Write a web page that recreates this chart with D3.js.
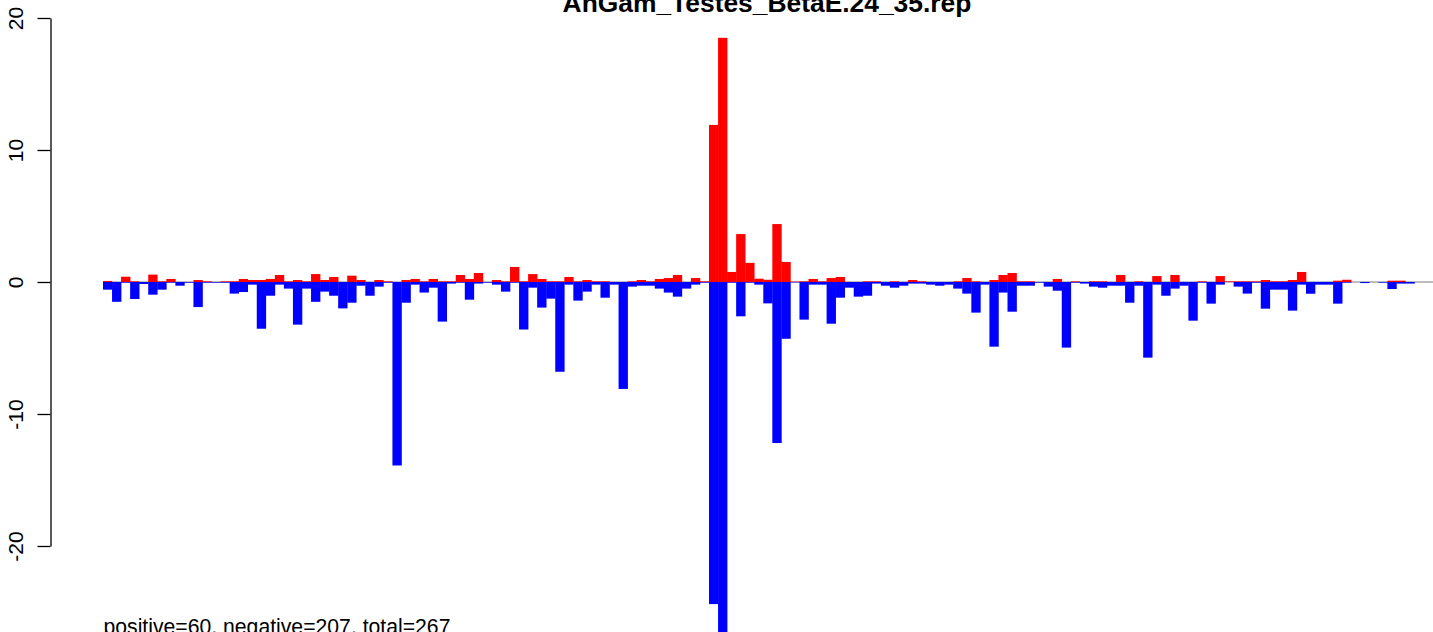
<!DOCTYPE html>
<html>
<head>
<meta charset="utf-8">
<script src="https://cdn.jsdelivr.net/npm/d3@7"></script>
<style>
  body { margin: 0; background: #fff; }
  svg { display: block; font-family: "Liberation Sans", Arial, Helvetica, sans-serif; }
</style>
</head>
<body>
<div id="chart"></div>
<script>
// values, one entry per position (145 positions)
var posValues = [
  0.08, 0, 0.4, 0.05, 0, 0.56, 0.05, 0.23, 0, 0,
  0.15, 0.05, 0, 0.05, 0.05, 0.23, 0.15, 0.15, 0.23, 0.53,
  0.05, 0.15, 0.05, 0.6, 0.15, 0.38, 0, 0.48, 0.15, 0,
  0.15, 0.05, 0, 0.15, 0.23, 0.05, 0.23, 0.05, 0.05, 0.53,
  0.23, 0.68, 0, 0.15, 0.05, 1.14, 0.05, 0.6, 0.23, 0.05,
  0.05, 0.38, 0.05, 0.15, 0.05, 0.05, 0, 0, 0.05, 0.15,
  0.05, 0.23, 0.3, 0.53, 0, 0.3, 0.05, 11.9, 18.5, 0.76,
  3.63, 1.45, 0.25, 0.17, 4.39, 1.52, 0.03, 0.05, 0.23, 0.05,
  0.3, 0.38, 0, 0, 0.05, 0.05, 0, 0.05, 0, 0.15,
  0.05, 0, 0, 0, 0.05, 0.3, 0.05, 0, 0.15, 0.53,
  0.68, 0.05, 0.05, 0, 0, 0.23, 0, 0.05, 0, 0.05,
  0.05, 0, 0.53, 0, 0.05, 0, 0.45, 0, 0.53, 0,
  0, 0.05, 0, 0.45, 0.05, 0.05, 0.05, 0.05, 0.15, 0.05,
  0.05, 0.15, 0.76, 0, 0, 0, 0.1, 0.17, 0, 0,
  0, 0, 0.1, 0.1, 0
];
var negValues = [
  -0.58, -1.5, -0.05, -1.29, -0.15, -0.96, -0.58, -0.05, -0.28, -0.05,
  -1.9, -0.05, -0.05, -0.05, -0.88, -0.76, -0.2, -3.54, -1.04, -0.2,
  -0.5, -3.23, -0.5, -1.5, -0.73, -1.04, -2.0, -1.57, -0.28, -1.04,
  -0.35, -0.05, -13.9, -1.57, -0.2, -0.8, -0.43, -3.0, -0.12, -0.05,
  -1.34, -0.12, -0.05, -0.2, -0.73, -0.05, -3.6, -0.43, -1.94, -1.26,
  -6.8, -0.2, -1.41, -0.73, -0.2, -1.19, -0.2, -8.1, -0.35, -0.28,
  -0.28, -0.5, -0.8, -1.11, -0.5, -0.2, -0.05, -24.4, -28, -0.05,
  -2.6, -0.05, -0.2, -1.62, -12.2, -4.3, -0.03, -2.85, -0.2, -0.2,
  -3.16, -1.19, -0.43, -1.11, -1.04, -0.12, -0.28, -0.43, -0.28, -0.12,
  -0.12, -0.2, -0.28, -0.2, -0.5, -0.88, -2.32, -0.2, -4.9, -0.8,
  -2.25, -0.28, -0.28, -0.05, -0.35, -0.66, -4.97, -0.05, -0.12, -0.35,
  -0.43, -0.28, -0.28, -1.57, -0.28, -5.73, -0.2, -1.04, -0.5, -0.28,
  -2.93, -0.05, -1.64, -0.2, 0, -0.35, -0.88, -0.05, -2.02, -0.58,
  -0.58, -2.17, -0.2, -0.89, -0.2, -0.2, -1.64, -0.05, 0, -0.08,
  0, -0.05, -0.53, -0.12, -0.12
];
var yTicks = [-20, -10, 0, 10, 20];
var title = "AnGam_Testes_BetaE.24_35.rep";
var summary = "positive=60, negative=207, total=267";

var width = 1433, height = 632;
var barW = 9.045;
var n = posValues.length;

var svg = d3.select("#chart").append("svg")
    .attr("width", width)
    .attr("height", height);

var xscale = d3.scaleBand()
    .domain(d3.range(n))
    .range([103, 103 + n * barW])
    .paddingInner(0).paddingOuter(0);
var yscale = d3.scaleLinear().domain([-20, 20]).range([546, 18]);

// zero line under the bars
svg.append("line")
    .attr("x1", 103).attr("x2", width)
    .attr("y1", yscale(0)).attr("y2", yscale(0))
    .attr("stroke", "#bebebe").attr("stroke-width", 2);

svg.append("g").selectAll("rect")
    .data(posValues)
    .join("rect")
    .attr("x", (d, i) => xscale(i))
    .attr("width", xscale.bandwidth() + 0.3)
    .attr("y", d => yscale(d))
    .attr("height", d => yscale(0) - yscale(d))
    .attr("fill", "#ff0000");

svg.append("g").selectAll("rect")
    .data(negValues)
    .join("rect")
    .attr("x", (d, i) => xscale(i))
    .attr("width", xscale.bandwidth() + 0.3)
    .attr("y", yscale(0))
    .attr("height", d => yscale(d) - yscale(0))
    .attr("fill", "#0000ff");

// y axis, labels turned like R's las=0
var yaxis = d3.axisLeft(yscale)
    .tickValues(yTicks)
    .tickFormat(d => String(d))
    .tickSize(13)
    .tickSizeOuter(0);
var g_yaxis = svg.append("g")
    .attr("transform", "translate(50.5,0)")
    .call(yaxis);
g_yaxis.select(".domain").attr("stroke", "#000").attr("stroke-width", 1.3);
g_yaxis.selectAll(".tick line").attr("stroke", "#000").attr("stroke-width", 1.3);
g_yaxis.selectAll(".tick text")
    .attr("transform", "rotate(-90)")
    .attr("x", 0).attr("y", -27.5).attr("dy", 0)
    .attr("text-anchor", "middle")
    .attr("fill", "#000")
    .style("font-size", "21px")
    .style("font-family", "'Liberation Sans', Arial, sans-serif");

svg.append("text")
    .attr("x", 767).attr("y", 12)
    .attr("text-anchor", "middle")
    .style("font-size", "26.4px")
    .style("font-weight", "bold")
    .text(title);

svg.append("text")
    .attr("x", 103.5).attr("y", 634)
    .style("font-size", "21.2px")
    .text(summary);
</script>
</body>
</html>
